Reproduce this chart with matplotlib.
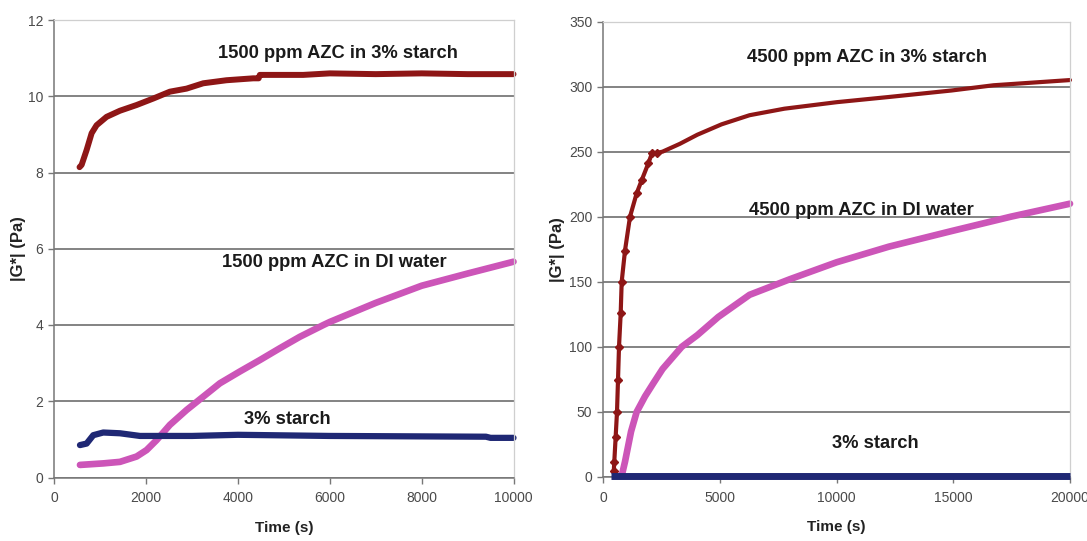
import matplotlib
matplotlib.use("Agg")
import matplotlib.pyplot as plt

plt.rcParams['font.family'] = ['Liberation Sans', 'DejaVu Sans']

# ---- Left panel data (1500 ppm) ----
L_red_t = [550, 595, 704, 813, 921, 1139, 1429, 1792, 2155, 2517, 2880, 3243, 3750, 4331, 4450, 4476, 5419, 6000, 7000, 8000, 9000, 10000]
L_red_v = [8.14, 8.2, 8.59, 9.03, 9.24, 9.46, 9.62, 9.77, 9.94, 10.12, 10.2, 10.34, 10.42, 10.47, 10.47, 10.56, 10.56, 10.6, 10.58, 10.6, 10.58, 10.58]

L_mag_t = [559, 1066, 1430, 1792, 2010, 2227, 2517, 2880, 3243, 3605, 4040, 4476, 4911, 5346, 5860, 6000, 7000, 8000, 9000, 10000]
L_mag_v = [0.33, 0.37, 0.41, 0.55, 0.72, 0.98, 1.38, 1.77, 2.12, 2.47, 2.78, 3.08, 3.39, 3.69, 4.0, 4.08, 4.58, 5.03, 5.35, 5.66]

L_blu_t = [559, 704, 849, 1066, 1430, 1865, 3000, 4000, 6000, 9400, 9500, 10000]
L_blu_v = [0.85, 0.89, 1.11, 1.18, 1.16, 1.09, 1.09, 1.12, 1.09, 1.07, 1.04, 1.04]

# ---- Right panel data (4500 ppm) ----
R_red_t = [450, 471, 530, 587, 630, 673, 745, 788, 930, 1144, 1430, 1644, 1930, 2090, 2300, 2540, 3280, 4030, 5070, 6270, 7760, 10000, 12240, 14930, 16720, 20000]
R_red_v = [4.8, 11.7, 31, 50, 74.5, 100, 125.7, 150, 174, 200, 218, 228, 241, 249, 249, 250, 256, 263, 271, 278, 283, 288, 292, 297, 301, 305]

R_mag_t = [790, 930, 1190, 1430, 1790, 2143, 2540, 3360, 4030, 4930, 6270, 8000, 10000, 12240, 14930, 17460, 20000]
R_mag_v = [1, 11.7, 35, 50, 62, 72, 83, 100, 109, 123, 140, 152, 165, 177, 189, 200, 210]

R_blu_t = [320, 5000, 10000, 15000, 20000]
R_blu_v = [1.0, 1.0, 1.0, 1.0, 1.0]

left_labels = ["1500 ppm AZC in 3% starch", "1500 ppm AZC in DI water", "3% starch"]
right_labels = ["4500 ppm AZC in 3% starch", "4500 ppm AZC in DI water", "3% starch"]

RED = "#8e1616"
MAG = "#cc55b8"
BLU = "#1f2874"
GRID = "#7a7a7a"

W, H = 1087, 541
fig = plt.figure(figsize=(W / 100, H / 100), dpi=100)
axL = fig.add_axes([54.3 / W, 1 - 477.5 / H, 459.2 / W, 457.5 / H])
axR = fig.add_axes([603.3 / W, 1 - 477.0 / H, 466.7 / W, 455.5 / H])


def style(ax, xlim, xticks, ylim, yticks, ylabelpad):
    ax.set_xlim(*xlim)
    ax.set_ylim(*ylim)
    ax.set_xticks(xticks)
    ax.set_yticks(yticks)
    ax.yaxis.grid(True, color=GRID, linewidth=1.3)
    ax.set_axisbelow(True)
    for s in ['left', 'bottom']:
        ax.spines[s].set_color("#777777")
        ax.spines[s].set_linewidth(1.1)
    for s in ['top', 'right']:
        ax.spines[s].set_color("#cfcfcf")
        ax.spines[s].set_linewidth(0.9)
    ax.tick_params(axis='both', direction='out', length=4, width=1, color="#777777",
                   labelsize=10, labelcolor="#4a4a4a")
    ax.tick_params(axis='x', pad=6)
    ax.tick_params(axis='y', pad=4)
    ax.set_xlabel("Time (s)", fontsize=11, fontweight='bold', color="#222222", labelpad=11)
    ax.set_ylabel("|G*| (Pa)", fontsize=12, fontweight='bold', color="#222222", labelpad=ylabelpad)


style(axL, (0, 10000), [0, 2000, 4000, 6000, 8000, 10000], (0, 12), [0, 2, 4, 6, 8, 10, 12], 1)
style(axR, (0, 20000), [0, 5000, 10000, 15000, 20000], (0, 350), [0, 50, 100, 150, 200, 250, 300, 350], 3)

axL.plot(L_red_t, L_red_v, color=RED, linewidth=4.3, solid_capstyle='round', solid_joinstyle='round', clip_on=False)
axL.plot(L_mag_t, L_mag_v, color=MAG, linewidth=4.8, solid_capstyle='round', solid_joinstyle='round', clip_on=False)
axL.plot(L_blu_t, L_blu_v, color=BLU, linewidth=4.5, solid_capstyle='round', solid_joinstyle='round', clip_on=False)

steep = [i for i, t in enumerate(R_red_t) if t <= 2300]
axR.plot(R_red_t, R_red_v, color=RED, linewidth=3.0, marker='D', markersize=4.5, markevery=steep,
         solid_joinstyle='round', solid_capstyle='round', clip_on=False)
axR.plot(R_mag_t, R_mag_v, color=MAG, linewidth=4.8, solid_capstyle='round', solid_joinstyle='round', clip_on=False)
axR.plot(R_blu_t, R_blu_v, color=BLU, linewidth=5.0, solid_capstyle='butt', clip_on=False, zorder=4)

tkw = dict(fontsize=13.2, fontweight='bold', color="#1a1a1a", ha='center', va='center')
axL.text(6186, 11.12, left_labels[0], **tkw)
axL.text(6090, 5.63, left_labels[1], **tkw)
axL.text(5080, 1.52, left_labels[2], **tkw)

axR.text(11321, 322.7, right_labels[0], **tkw)
axR.text(11045, 204.8, right_labels[1], **tkw)
axR.text(11664, 25.4, right_labels[2], **tkw)

fig.savefig("out.png", dpi=100)
